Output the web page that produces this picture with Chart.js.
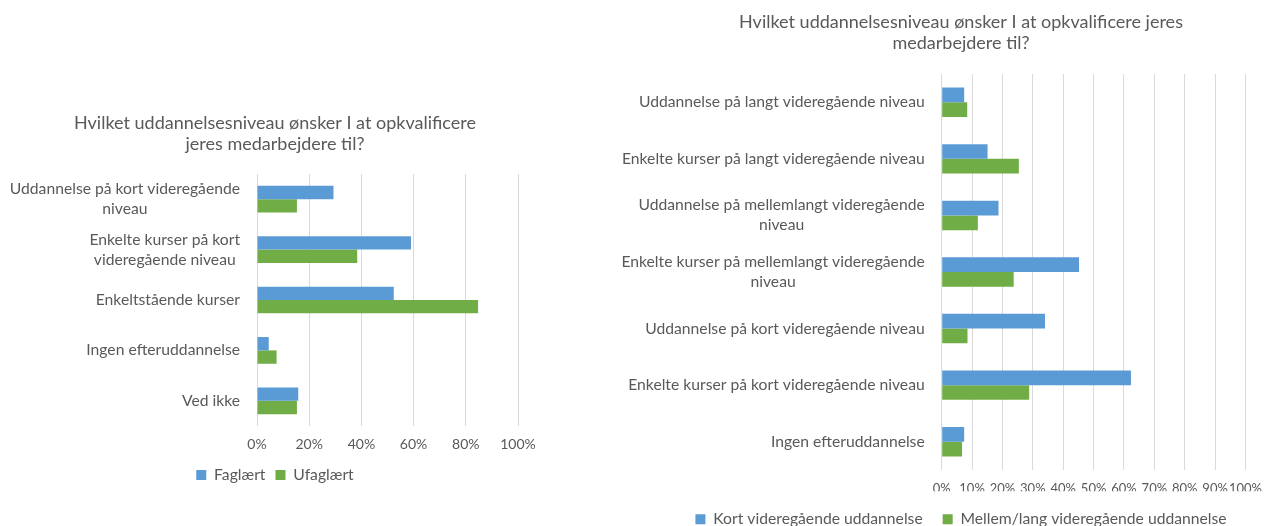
<!DOCTYPE html>
<html>
<head>
<meta charset="utf-8">
<script src="https://cdn.jsdelivr.net/npm/chart.js@4"></script>
<style>
  html, body { margin: 0; padding: 0; background: #fff; overflow: hidden; }
  #leftChart { position: absolute; left: 0; top: 0; }
  #rightChart { position: absolute; left: 600px; top: 0; }
</style>
</head>
<body>
<canvas id="leftChart" width="560" height="526"></canvas>
<canvas id="rightChart" width="673" height="537"></canvas>
<script>
'use strict';

// left survey: skilled / unskilled
var leftTitle = ['Hvilket uddannelsesniveau ønsker I at opkvalificere', 'jeres medarbejdere til?'];
var leftLabels = [
  ['Uddannelse på kort videregående', 'niveau'],
  ['Enkelte kurser på kort', 'videregående niveau'],
  'Enkeltstående kurser',
  'Ingen efteruddannelse',
  'Ved ikke'
];
var leftSeriesNames = ['Faglært', 'Ufaglært'];
var faglaert = [29.3, 59.0, 52.4, 4.5, 15.8];
var ufaglaert = [15.3, 38.4, 84.7, 7.5, 15.3];

// right survey: short / medium-long education
var rightTitle = ['Hvilket uddannelsesniveau ønsker I at opkvalificere jeres', 'medarbejdere til?'];
var rightLabels = [
  'Uddannelse på langt videregående niveau',
  'Enkelte kurser på langt videregående niveau',
  ['Uddannelse på mellemlangt videregående', 'niveau'],
  ['Enkelte kurser på mellemlangt videregående', 'niveau'],
  'Uddannelse på kort videregående niveau',
  'Enkelte kurser på kort videregående niveau',
  'Ingen efteruddannelse'
];
var rightSeriesNames = ['Kort videregående uddannelse', 'Mellem/lang videregående uddannelse'];
var kortVideregaaende = [7.4, 15.1, 18.7, 45.2, 34.0, 62.3, 7.4];
var mellemLang = [8.4, 25.4, 11.9, 23.7, 8.5, 28.8, 6.7];

var blue = '#5B9BD5';
var green = '#70AD47';
var textGrey = '#595959';
var gridGrey = '#D9D9D9';
var fontFamily = "Lato, 'Open Sans', sans-serif";
var labelSize = 15.7;

Chart.defaults.font.family = fontFamily;
Chart.defaults.color = textGrey;

// category labels like excel: block right aligned, each line centered in it
var centeredLabels = {
  id: 'centeredLabels',
  afterDraw: function (chart) {
    var scale = chart.scales.y;
    var ctx = chart.ctx;
    var lineHeight = 20;
    var right = scale.right - 17;
    ctx.save();
    ctx.font = labelSize + 'px ' + fontFamily;
    ctx.fillStyle = textGrey;
    ctx.textAlign = 'center';
    ctx.textBaseline = 'middle';
    chart.data.labels.forEach(function (label, i) {
      var lines = [].concat(label);
      var widest = 0;
      lines.forEach(function (line) {
        widest = Math.max(widest, ctx.measureText(line).width);
      });
      var y = scale.getPixelForValue(i) - (lines.length - 1) * lineHeight / 2;
      lines.forEach(function (line, j) {
        ctx.fillText(line, right - widest / 2, y + j * lineHeight);
      });
    });
    ctx.restore();
  }
};

function barChart(id, labels, names, values, setup) {
  var context = document.getElementById(id).getContext('2d');
  var colors = [blue, green];
  var data = {
    labels: labels,
    datasets: []
  };
  for (var i = 0; i < names.length; i++) {
    data.datasets.push({
      label: names[i],
      data: values[i],
      backgroundColor: colors[i],
      borderWidth: 0,
      categoryPercentage: setup.catPct,
      barPercentage: 1
    });
  }
  return new Chart(context, {
    type: 'bar',
    data: data,
    options: {
      indexAxis: 'y',
      responsive: false,
      animation: false,
      devicePixelRatio: 1,
      layout: { padding: setup.padding },
      scales: {
        x: {
          min: 0,
          max: 100,
          ticks: {
            stepSize: setup.step,
            autoSkip: false,
            maxRotation: 0,
            padding: setup.tickPadding,
            color: textGrey,
            font: { size: setup.tickSize },
            callback: function (v) { return v + '%'; }
          },
          grid: { color: gridGrey, drawTicks: false },
          border: { display: false },
          afterFit: function (s) { s.height = setup.xHeight; }
        },
        y: {
          ticks: { display: false },
          grid: { display: false },
          border: { display: false },
          afterFit: function (s) { s.width = setup.yWidth; }
        }
      },
      plugins: {
        title: {
          display: true,
          text: setup.title,
          color: textGrey,
          font: { size: 18, weight: 'normal', lineHeight: 21 / 18 },
          padding: setup.titlePadding
        },
        legend: {
          position: 'bottom',
          labels: {
            boxWidth: 10,
            boxHeight: 10,
            padding: setup.legendPadding,
            color: textGrey,
            font: { size: labelSize }
          }
        },
        tooltip: { enabled: false }
      }
    },
    plugins: [centeredLabels]
  });
}

barChart('leftChart', leftLabels, leftSeriesNames, [faglaert, ufaglaert], {
  title: leftTitle,
  padding: { left: 32, right: 42, top: 0, bottom: 33.1 },
  titlePadding: { top: 112.5, bottom: 19.5 },
  legendPadding: 10,
  xHeight: 31.2,
  yWidth: 225,
  step: 20,
  tickSize: 14,
  tickPadding: 10,
  catPct: 0.53
});

barChart('rightChart', rightLabels, rightSeriesNames, [kortVideregaaende, mellemLang], {
  title: rightTitle,
  padding: { left: 66.3, right: 17.3, top: 0, bottom: 0 },
  titlePadding: { top: 11.5, bottom: 20.5 },
  legendPadding: 20,
  xHeight: 21.3,
  yWidth: 275.4,
  step: 10,
  tickSize: 13,
  tickPadding: 11,
  catPct: 0.52
});
</script>
</body>
</html>
